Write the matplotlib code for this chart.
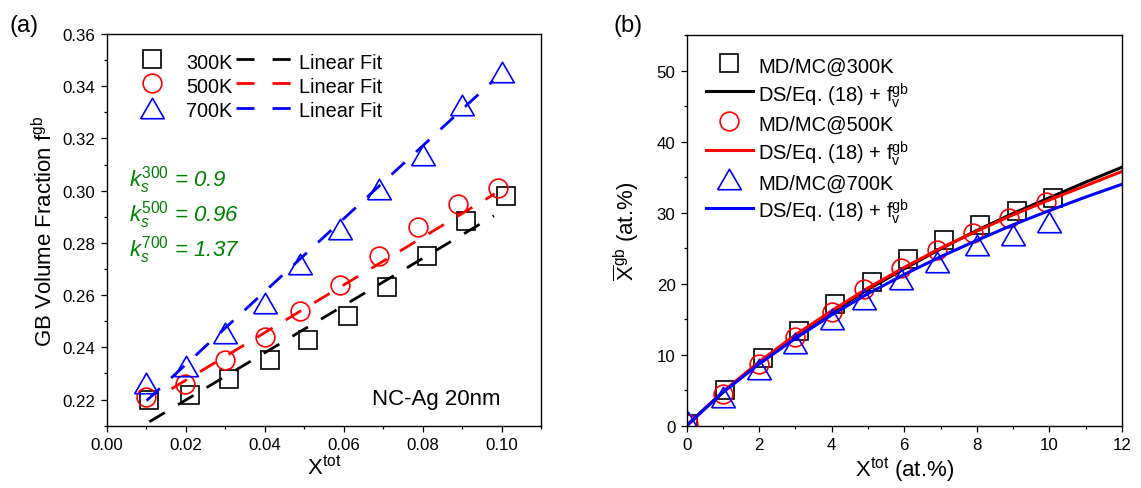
import matplotlib
matplotlib.use('Agg')
import matplotlib.pyplot as plt
from matplotlib.ticker import MultipleLocator
from matplotlib.lines import Line2D

plt.rcParams['font.family'] = ['Liberation Sans', 'DejaVu Sans']
plt.rcParams['mathtext.fontset'] = 'custom'
plt.rcParams['mathtext.rm'] = 'Liberation Sans'
plt.rcParams['mathtext.it'] = 'Liberation Sans:italic'
plt.rcParams['mathtext.bf'] = 'Liberation Sans:bold'

# ---- panel (a) data: GB volume fraction vs X_tot
xa_300 = [0.0108, 0.021, 0.031, 0.0412, 0.051, 0.061, 0.071, 0.081, 0.091, 0.101]
fa_300 = [0.220, 0.2219, 0.228, 0.235, 0.243, 0.2522, 0.2631, 0.275, 0.2883, 0.2978]
xa_500 = [0.010, 0.0199, 0.030, 0.040, 0.049, 0.059, 0.069, 0.0789, 0.089, 0.0989]
fa_500 = [0.221, 0.2258, 0.235, 0.244, 0.2539, 0.264, 0.275, 0.2862, 0.295, 0.3009]
xa_700 = [0.010, 0.020, 0.030, 0.040, 0.049, 0.059, 0.069, 0.080, 0.090, 0.100]
fa_700 = [0.2265, 0.233, 0.2455, 0.257, 0.272, 0.2855, 0.3005, 0.3135, 0.333, 0.3455]

# linear fit lines (end points)
fit_x300 = [0.0108, 0.098]
fit_y300 = [0.2115, 0.2904]
fit_x500 = [0.0164, 0.0982]
fit_y500 = [0.2241, 0.2988]
fit_x700 = [0.0101, 0.0978]
fit_y700 = [0.2196, 0.3421]

k_labels = [r'$\mathit{k_s^{300}}$ = 0.9', r'$\mathit{k_s^{500}}$ = 0.96', r'$\mathit{k_s^{700}}$ = 1.37']

# ---- panel (b) data: X_gb vs X_tot (at.%)
xb_300 = [0.05, 1.05, 2.1, 3.1, 4.1, 5.1, 6.1, 7.1, 8.1, 9.1, 10.1]
gb_300 = [0.3, 5.07, 9.6, 13.4, 17.1, 20.3, 23.5, 26.2, 28.2, 30.3, 32.1]
xb_500 = [0.05, 1.0, 2.0, 3.0, 4.0, 4.9, 5.9, 6.9, 7.9, 8.9, 9.9]
gb_500 = [0.2, 4.5, 8.7, 12.5, 16.0, 19.2, 22.2, 24.8, 27.2, 29.3, 31.5]
xb_700 = [0.05, 1.0, 2.0, 3.0, 4.0, 4.9, 5.9, 6.9, 8.0, 9.0, 10.0]
gb_700 = [0.5, 4.0, 8.0, 11.7, 15.0, 17.8, 20.6, 23.0, 25.4, 26.8, 28.7]

# DS/Eq.(18) model curves
xc = [0, 0.5, 1, 2, 3, 4, 5, 6, 7, 8, 9, 10, 11, 12]
ds_300 = [0, 2.4, 4.7, 8.9, 12.6, 16.0, 19.2, 22.1, 24.9, 27.5, 29.9, 32.1, 34.3, 36.4]
ds_500 = [0, 2.4, 4.8, 9.0, 12.8, 16.2, 19.4, 22.3, 25.0, 27.4, 29.7, 31.8, 33.8, 35.8]
ds_700 = [0, 2.4, 4.7, 8.7, 12.3, 15.6, 18.6, 21.3, 23.8, 26.1, 28.3, 30.3, 32.2, 34.0]

# equilateral-ish triangle, bbox centred
tri = [(-1, -0.866), (1, -0.866), (0, 0.866), (-1, -0.866)]
mk = dict(fillstyle='none', markeredgewidth=1.2, linestyle='none')
sq_ms, ci_ms, tr_ms = 12.5, 13.5, 17

fig = plt.figure(figsize=(11.41, 4.89), dpi=100)
ax1 = fig.add_axes([0.0935, 0.1274, 0.381, 0.801])
ax2 = fig.add_axes([0.6018, 0.1274, 0.3815, 0.7987])

dash = (6.5, 5.5)

# ---------- (a)
ax1.plot(xa_300, fa_300, marker='s', color='black', ms=sq_ms, **mk)
ax1.plot(fit_x300, fit_y300, color='black', lw=2, dashes=dash)
ax1.plot(xa_500, fa_500, marker='o', color='red', ms=ci_ms, **mk)
ax1.plot(fit_x500, fit_y500, color='red', lw=2, dashes=dash)
ax1.plot(xa_700, fa_700, marker=tri, color='blue', ms=tr_ms, **mk)
ax1.plot(fit_x700, fit_y700, color='blue', lw=2, dashes=dash)

ax1.set_xlim(0, 0.11)
ax1.set_ylim(0.21, 0.36)
ax1.xaxis.set_major_locator(MultipleLocator(0.02))
ax1.xaxis.set_minor_locator(MultipleLocator(0.01))
ax1.yaxis.set_major_locator(MultipleLocator(0.02))
ax1.yaxis.set_minor_locator(MultipleLocator(0.01))
ax1.set_xticks([0, 0.02, 0.04, 0.06, 0.08, 0.10])
ax1.set_xticklabels(['0.00', '0.02', '0.04', '0.06', '0.08', '0.10'])
ax1.set_xlabel(r'X$^{\mathrm{tot}}$', fontsize=16, labelpad=2)
ax1.set_ylabel(r'GB Volume Fraction f$^{\mathrm{gb}}$', fontsize=16, labelpad=4)

h_mk = [Line2D([], [], marker='s', color='black', ms=sq_ms, **mk),
        Line2D([], [], marker='o', color='red', ms=ci_ms, **mk),
        Line2D([], [], marker=tri, color='blue', ms=tr_ms, **mk)]
h_ln = [Line2D([], [], color=c, lw=2, dashes=(6.5, 6.5)) for c in ['black', 'red', 'blue']]
ax1.legend(h_mk + h_ln, ['300K', '500K', '700K'] + ['Linear Fit'] * 3, ncol=2,
           loc='upper left', bbox_to_anchor=(0.0195, 0.978), frameon=False,
           fontsize=14.3, handlelength=2.87, handletextpad=0.3, columnspacing=0.2,
           handleheight=1.26, labelspacing=0.15, borderpad=0.4, borderaxespad=0)

for i, t in enumerate(k_labels):
    ax1.text(0.052, [0.63, 0.541, 0.452][i], t, transform=ax1.transAxes,
             color='#008000', fontsize=16, style='italic', va='center')
ax1.text(0.0996, 0.2205, 'NC-Ag 20nm', fontsize=16, ha='right', va='center')

# ---------- (b)
ax2.plot(xb_300, gb_300, marker='s', color='black', ms=sq_ms, **mk, label='MD/MC@300K')
ax2.plot(xc, ds_300, color='black', lw=2.2, label=r'DS/Eq. (18) + f$_{\mathrm{v}}^{\mathrm{gb}}$')
ax2.plot(xb_500, gb_500, marker='o', color='red', ms=ci_ms, **mk, label='MD/MC@500K')
ax2.plot(xc, ds_500, color='red', lw=2.2, label=r'DS/Eq. (18) + f$_{\mathrm{v}}^{\mathrm{gb}}$')
ax2.plot(xb_700, gb_700, marker=tri, color='blue', ms=tr_ms, **mk, label='MD/MC@700K')
ax2.plot(xc, ds_700, color='blue', lw=2.2, label=r'DS/Eq. (18) + f$_{\mathrm{v}}^{\mathrm{gb}}$')

ax2.set_xlim(0, 12)
ax2.set_ylim(0, 55)
ax2.xaxis.set_major_locator(MultipleLocator(2))
ax2.xaxis.set_minor_locator(MultipleLocator(1))
ax2.set_yticks([0, 10, 20, 30, 40, 50])
ax2.yaxis.set_minor_locator(MultipleLocator(5))
ax2.set_xlabel(r'X$^{\mathrm{tot}}$ (at.%)', fontsize=16, labelpad=2)
ax2.set_ylabel(r'$\overline{\mathrm{X}}^{\mathrm{gb}}$ (at.%)', fontsize=16, labelpad=11)
ax2.legend(loc='upper left', bbox_to_anchor=(0.026, 0.974), frameon=False,
           fontsize=14.5, handlelength=2.32, handletextpad=0.28,
           handleheight=1.4, labelspacing=0.16, borderpad=0.4, borderaxespad=0)

for ax in (ax1, ax2):
    ax.tick_params(which='major', direction='out', length=4.5, width=0.9,
                   labelsize=12.2, top=False, right=False)
    ax.tick_params(which='minor', direction='out', length=2.5, width=0.9,
                   top=False, right=False)
    for s in ax.spines.values():
        s.set_linewidth(1.0)

fig.text(0.008, 0.947, '(a)', fontsize=17, va='center')
fig.text(0.538, 0.947, '(b)', fontsize=17, va='center')

plt.savefig('out.png', dpi=100)
